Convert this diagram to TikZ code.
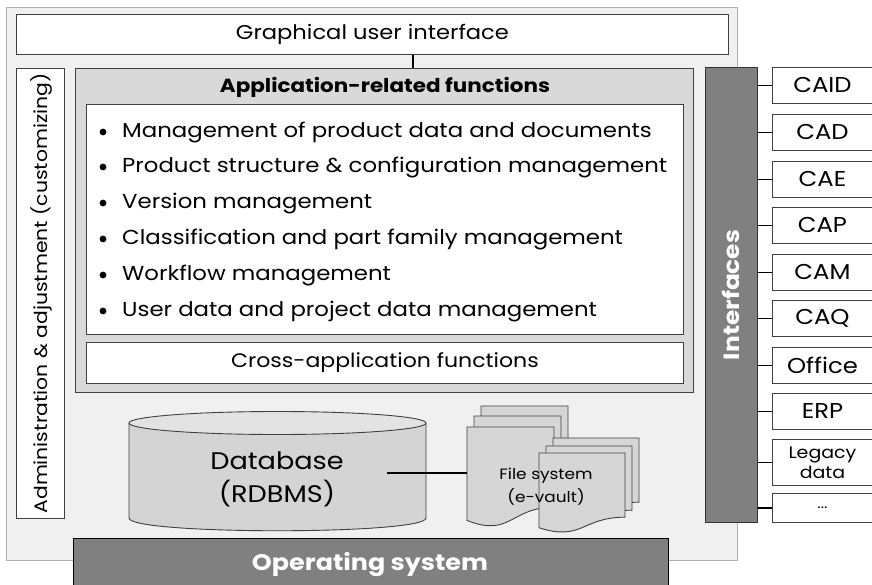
\documentclass[tikz,border=0pt]{standalone}
\usepackage{fontspec}
\setmainfont{Poppins}[FakeStretch=1.13]
\begin{document}
\begin{tikzpicture}[x=1pt,y=-1pt,
  frame/.style={draw=black!75,line width=0.9pt},
  whitebox/.style={frame,fill=white,inner sep=0pt,anchor=north west},
  darkbar/.style={draw=black!80,line width=0.9pt,fill=black!50,inner sep=0pt,anchor=north west},
  extbox/.style={whitebox,minimum width=100pt,minimum height=36pt,font=\fontsize{21.5}{24}\selectfont,align=center},
  link/.style={line width=2.2pt,black},
  sheet/.style={draw=black!75,line width=0.9pt,fill=black!16}
]
\useasboundingbox (0,0) rectangle (872,584);

% outer frame
\node[draw=black!30,line width=0.8pt,fill=black!6,minimum width=731pt,minimum height=553pt,anchor=north west,inner sep=0pt] (outer) at (6,7) {};

% graphical user interface
\node[whitebox,minimum width=712pt,minimum height=40pt] (gui) at (16,14) {};
\node[font=\fontsize{20}{23}\selectfont] at (gui.center) {Graphical user interface};

% administration column
\node[whitebox,minimum width=48pt,minimum height=450pt] (admin) at (16,68) {};
\node[rotate=90,font=\fontsize{18}{21}\selectfont] at ([xshift=1pt]admin.center) {Administration \& adjustment (customizing)};

% application functions
\node[frame,fill=black!15,minimum width=618pt,minimum height=324pt,anchor=north west,inner sep=0pt] (app) at (75,68) {};
\node[font=\bfseries\fontsize{19}{22}\selectfont] (apptitle) at (385,87) {Application-related functions};
\node[whitebox,minimum width=597pt,minimum height=230pt] (list) at (86,104) {};
\foreach \y/\t in {131/Management of product data and documents,
                   166/Product structure \& configuration management,
                   202/Version management,
                   238/Classification and part family management,
                   274/Workflow management,
                   310/User data and project data management}{
  \fill (103,\y+1) circle (3.4pt);
  \node[font=\fontsize{20.2}{23}\selectfont,anchor=west,inner sep=0pt] at (122,\y+1.5) {\t};
}
\node[whitebox,minimum width=597pt,minimum height=41pt] (cross) at (86,342) {};
\node[font=\fontsize{19.5}{22}\selectfont] at (cross.center) {Cross-application functions};

\draw[link] (gui.south -| 413,0) -- (app.north -| 413,0);

% interfaces bar
\node[darkbar,minimum width=52pt,minimum height=455pt] (ifc) at (705,67) {};
\node[rotate=90,text=white,font=\bfseries\fontsize{22}{25}\selectfont] at (ifc.center) {Interfaces};

% external systems
\foreach \n/\y/\t in {caid/67/CAID,cad/114/CAD,cae/161/CAE,cap/207/CAP,cam/254/CAM,caq/300/CAQ,office/347/Office,erp/393/ERP}{
  \node[extbox] (\n) at (772,\y) {\t};
  \draw[link,line width=1.8pt] (ifc.east |- \n.west) -- (\n.west);
}
\node[extbox,minimum height=46pt,font=\fontsize{16.8}{20}\selectfont] (legacy) at (772,439) {Legacy\\data};
\draw[link,line width=1.8pt] (ifc.east |- legacy.west) -- (legacy.west);
\node[extbox,minimum height=29pt,font=\fontsize{14}{16}\selectfont] (more) at (772,493) {...};
\draw[link,line width=1.8pt] (ifc.east |- more.west) -- (more.west);

% database cylinder
\fill[black!17] (129,423) -- (129,518) .. controls (129,535) and (426,535) .. (426,518) -- (426,423) -- cycle;
\draw[draw=black!75,line width=0.9pt] (129,423) -- (129,518) .. controls (129,535) and (426,535) .. (426,518) -- (426,423);
\draw[draw=black!75,line width=0.9pt,fill=black!11] (277.5,423) ellipse (148.5pt and 11.5pt);
\node[font=\fontsize{24}{33}\selectfont,align=center] (db) at (277,479) {Database\\(RDBMS)};

% file vault: stacked sheets
\foreach \x/\y/\w/\h in {481/406/87/100,474/416/87/100,467/427/87/100,553/438/86/80,546/446/86/80,539/453/86/80}{
  \draw[sheet] (\x,\y) -- ++(\w,0) -- ++(0,0.802*\h)
    .. controls +(-0.5*\w,0) and +(0.5*\w,0.174*\h) .. (\x,\y+0.934*\h) -- cycle;
}
\coordinate (vault) at (467,473);
\node[font=\fontsize{15}{23}\selectfont,align=center] (fs) at (546,487) {File system\\(e-vault)};
\draw[link] (387,473) -- (vault);

% operating system
\node[draw=black,line width=0.9pt,fill=black!50,minimum width=595pt,minimum height=50pt,anchor=north west,inner sep=0pt] (os) at (73,538) {};
\node[text=white,font=\bfseries\fontsize{22.5}{26}\selectfont] at (370,565) {Operating system};
\end{tikzpicture}
\end{document}
